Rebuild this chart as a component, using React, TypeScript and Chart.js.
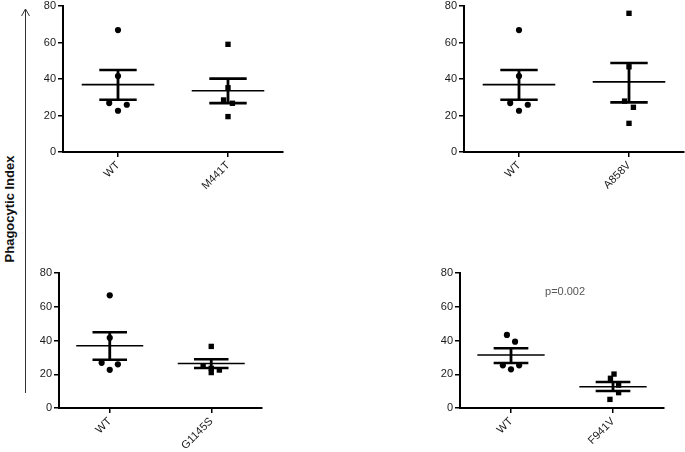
import React, { useEffect, useRef } from "react";
import { Chart, registerables } from "chart.js";
Chart.register(...registerables);

// ---- data ----
const yTicks = [0, 20, 40, 60, 80];
const yAxisTitle = "Phagocytic Index";

const wtValues = [66.8, 41.6, 26.8, 25.9, 22.6];
const wtJitter = [0, 0, -0.08, 0.08, 0];
const wtStats = [36.9, 28.6, 44.9]; // mean, mean-SEM, mean+SEM

const m441tValues = [59.0, 35.2, 28.5, 26.7, 19.4];
const m441tJitter = [0, 0, -0.04, 0.04, 0];
const m441tStats = [33.6, 26.8, 40.2];

const a858vValues = [76.0, 46.7, 27.9, 24.5, 15.7];
const a858vJitter = [0, 0, -0.04, 0.04, 0];
const a858vStats = [38.4, 27.2, 48.8];

const g1145sValues = [36.5, 24.9, 23.5, 21.0, 22.5];
const g1145sJitter = [0, -0.08, 0, 0, 0.08];
const g1145sStats = [26.4, 23.7, 28.9];

const wt2Values = [43.3, 39.3, 25.3, 25.3, 22.9];
const wt2Jitter = [-0.04, 0.04, -0.08, 0.08, 0];
const wt2Stats = [31.4, 26.7, 35.4];

const f941vValues = [20.1, 17.6, 13.6, 9.1, 5.1];
const f941vJitter = [0.01, -0.025, 0.055, 0.055, -0.03];
const f941vStats = [12.6, 10.1, 15.4];

const panel1Labels = ["WT", "M441T"];
const panel2Labels = ["WT", "A858V"];
const panel3Labels = ["WT", "G1145S"];
const panel4Labels = ["WT", "F941V"];

const pValueText = "p=0.002";
const pValueAt = [0.53, 68.5];

// ---- layout ----
const FONT = "'Liberation Sans', Arial, Helvetica, sans-serif";
const YW = 40;
const XH = 50;
const PT = 10;
const PR = 4;

type Group = { values: number[]; jitter: number[]; stats: number[]; style: string };
type PanelCfg = {
  labels: string[];
  groups: Group[];
  area: { l: number; t: number; r: number; b: number };
  note?: { text: string; at: number[] };
};

const panels: PanelCfg[] = [
  {
    labels: panel1Labels,
    groups: [
      { values: wtValues, jitter: wtJitter, stats: wtStats, style: "circle" },
      { values: m441tValues, jitter: m441tJitter, stats: m441tStats, style: "rect" },
    ],
    area: { l: 63, t: 6, r: 283, b: 152 },
  },
  {
    labels: panel2Labels,
    groups: [
      { values: wtValues, jitter: wtJitter, stats: wtStats, style: "circle" },
      { values: a858vValues, jitter: a858vJitter, stats: a858vStats, style: "rect" },
    ],
    area: { l: 464, t: 6, r: 684, b: 152 },
  },
  {
    labels: panel3Labels,
    groups: [
      { values: wtValues, jitter: wtJitter, stats: wtStats, style: "circle" },
      { values: g1145sValues, jitter: g1145sJitter, stats: g1145sStats, style: "rect" },
    ],
    area: { l: 59, t: 273, r: 262, b: 408 },
  },
  {
    labels: panel4Labels,
    groups: [
      { values: wt2Values, jitter: wt2Jitter, stats: wt2Stats, style: "circle" },
      { values: f941vValues, jitter: f941vJitter, stats: f941vStats, style: "rect" },
    ],
    area: { l: 460, t: 273, r: 664, b: 408 },
    note: { text: pValueText, at: pValueAt },
  },
];

function seg(x1: number, y1: number, x2: number, y2: number, w: number) {
  return {
    data: [
      { x: x1, y: y1 },
      { x: x2, y: y2 },
    ],
    showLine: true,
    borderColor: "#000",
    borderWidth: w,
    pointRadius: 0,
    fill: false,
  };
}

function Panel({ cfg }: { cfg: PanelCfg }) {
  const ref = useRef<HTMLCanvasElement>(null);
  const { l, t, r, b } = cfg.area;
  const left = l - YW;
  const top = t - PT;
  const width = r + PR - left;
  const height = b + XH - top;

  useEffect(() => {
    if (!ref.current) return;
    const datasets: any[] = [];
    cfg.groups.forEach((g, gi) => {
      const [mean, lo, hi] = g.stats;
      datasets.push(seg(gi - 0.33, mean, gi + 0.33, mean, 1.6));
      datasets.push(seg(gi - 0.17, lo, gi + 0.17, lo, 2.6));
      datasets.push(seg(gi - 0.17, hi, gi + 0.17, hi, 2.6));
      datasets.push(seg(gi, lo, gi, hi, 2.8));
    });
    cfg.groups.forEach((g, gi) => {
      datasets.push({
        data: g.values.map((v, i) => ({ x: gi + g.jitter[i], y: v })),
        pointStyle: g.style,
        pointRadius: g.style === "rect" ? 3.8 : 3.1,
        backgroundColor: "#000",
        borderColor: "#000",
        borderWidth: 0,
        showLine: false,
      });
    });

    const notePlugin = {
      id: "note",
      afterDatasetsDraw(chart: any) {
        if (!cfg.note) return;
        const ctx = chart.ctx;
        const x = chart.scales.x.getPixelForValue(cfg.note.at[0]);
        const y = chart.scales.y.getPixelForValue(cfg.note.at[1]);
        ctx.save();
        ctx.font = `11px ${FONT}`;
        ctx.fillStyle = "#555";
        ctx.textAlign = "center";
        ctx.textBaseline = "middle";
        ctx.fillText(cfg.note.text, x, y);
        ctx.restore();
      },
    };

    const chart = new Chart(ref.current, {
      type: "scatter",
      data: { datasets },
      options: {
        animation: false,
        responsive: false,
        devicePixelRatio: 1,
        events: [],
        layout: { padding: { top: PT, right: PR, left: 0, bottom: 0 } },
        plugins: { legend: { display: false }, tooltip: { enabled: false } },
        scales: {
          x: {
            type: "linear",
            min: -0.5,
            max: 1.5,
            afterBuildTicks: (axis: any) => {
              axis.ticks = cfg.labels.map((_, i) => ({ value: i }));
            },
            afterFit: (axis: any) => {
              axis.height = XH;
            },
            border: { display: true, color: "#000", width: 2 },
            grid: {
              display: true,
              drawOnChartArea: false,
              drawTicks: true,
              tickLength: 5,
              color: "#000",
              lineWidth: 1.5,
            },
            ticks: {
              autoSkip: false,
              minRotation: 45,
              maxRotation: 45,
              padding: 2,
              color: "#1a1a1a",
              font: { family: FONT, size: 11 },
              callback: (v: any) => cfg.labels[Math.round(Number(v))] ?? "",
            },
          },
          y: {
            type: "linear",
            min: yTicks[0],
            max: yTicks[yTicks.length - 1],
            afterBuildTicks: (axis: any) => {
              axis.ticks = yTicks.map((v) => ({ value: v }));
            },
            afterFit: (axis: any) => {
              axis.width = YW;
            },
            border: { display: true, color: "#000", width: 2 },
            grid: {
              display: true,
              drawOnChartArea: false,
              drawTicks: true,
              tickLength: 5,
              color: "#000",
              lineWidth: 1.5,
            },
            ticks: {
              padding: 2,
              color: "#1a1a1a",
              font: { family: FONT, size: 11 },
            },
          },
        },
      },
      plugins: [notePlugin],
    } as any);
    return () => chart.destroy();
  }, []);

  return (
    <canvas
      ref={ref}
      width={width}
      height={height}
      style={{ position: "absolute", left, top, width, height }}
    />
  );
}

export default function App() {
  return (
    <div
      style={{
        position: "fixed",
        left: 0,
        top: 0,
        width: 685,
        height: 452,
        background: "#fff",
        overflow: "hidden",
      }}
    >
      <svg
        width={685}
        height={452}
        style={{ position: "absolute", left: 0, top: 0 }}
      >
        <line x1={25.5} y1={9} x2={25.5} y2={393} stroke="#333" strokeWidth={1} />
        <polyline
          points="21.5,16 25.5,9 29.5,16"
          fill="none"
          stroke="#333"
          strokeWidth={1}
        />
        <text
          x={0}
          y={0}
          transform="translate(14 209) rotate(-90)"
          textAnchor="middle"
          fontFamily={FONT}
          fontWeight="bold"
          fontSize={13}
          fill="#111"
        >
          {yAxisTitle}
        </text>
      </svg>
      {panels.map((p, i) => (
        <Panel key={i} cfg={p} />
      ))}
    </div>
  );
}
